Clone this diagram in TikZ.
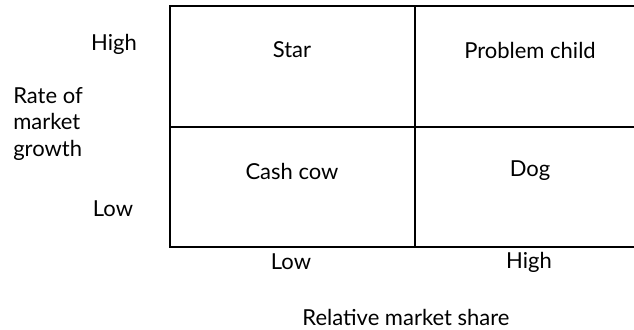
\documentclass[tikz,border=0pt]{standalone}
\usepackage{fontspec}
\setmainfont{Lato}
\usetikzlibrary{positioning}

\begin{document}
\begin{tikzpicture}[x=0.75pt,y=-0.75pt,
  lbl/.style={font=\fontsize{16.5}{20}\selectfont,inner sep=0pt},
  grid/.style={line width=1pt}]
\useasboundingbox (0,0) rectangle (634,329);
% matrix frame (open on the right)
\coordinate (tl) at (170,6);
\coordinate (tr) at (634,6);
\coordinate (bl) at (170,247);
\coordinate (br) at (634,247);
\coordinate (ml) at (170,127);
\coordinate (mr) at (634,127);
\coordinate (mt) at (415,6);
\coordinate (mb) at (415,247);
\draw[grid] (tr) -- (tl) -- (bl) -- (br);
\draw[grid] (ml) -- (mr);
\draw[grid] (mt) -- (mb);
% quadrants
\node[lbl] (star) at (292,50) {Star};
\node[lbl] (child) at (530,50) {Problem child};
\node[lbl] (cow) at (292,171) {Cash cow};
\node[lbl] (dog) at (530,171) {Dog};
% axes
\node[lbl] (yhigh) at (114,44) {High};
\node[lbl] (ylow) at (113,209) {Low};
\node[lbl,align=left,anchor=west] (ytitle) at (13,124) {Rate of\\market\\growth};
\node[lbl] (xlow) at (291,262) {Low};
\node[lbl] (xhigh) at (529,262) {High};
\node[lbl] (xtitle) at (406,317) {Relative market share};
\end{tikzpicture}
\end{document}
